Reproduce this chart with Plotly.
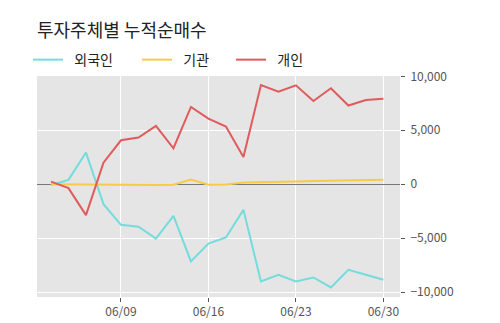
import plotly.graph_objects as go

dates = ["06/03", "06/04", "06/05", "06/06", "06/09", "06/10", "06/11", "06/12", "06/13",
         "06/16", "06/17", "06/18", "06/19", "06/20", "06/23", "06/24", "06/25", "06/26",
         "06/27", "06/30"]
foreign = [-80, 400, 2930, -1850, -3770, -3950, -5040, -2940, -7160, -5500, -4940, -2380,
           -9020, -8400, -9020, -8650, -9570, -7940, -8400, -8860]
institution = [0, -20, -30, -20, -30, -60, -70, -50, 420, -60, -20, 150, 170, 200, 250, 300,
               340, 370, 380, 400]
individual = [240, -370, -2870, 2000, 4070, 4320, 5400, 3330, 7160, 6080, 5340, 2530, 9190,
              8580, 9170, 7710, 8890, 7290, 7800, 7930]
tick_dates = ["06/09", "06/16", "06/23", "06/30"]
y_ticks = [-10000, -5000, 0, 5000, 10000]

W, H = 500, 323
L, R, T, B = 37, 100, 75.5, 26
pw, ph = W - L - R, H - T - B

x = list(range(len(dates)))
fig = go.Figure()
series = [("외국인", foreign, "#74dcdc", "legend", 28),
          ("기관", institution, "#f7cb45", "legend2", 137),
          ("개인", individual, "#e05b5b", "legend3", 231)]
legend_cfg = {}
for name, vals, col, lg, lx in series:
    fig.add_trace(go.Scatter(x=x, y=vals, name="\u00a0\u00a0" + name, mode="lines",
                             line=dict(color=col, width=2), legend=lg))
    legend_cfg[lg] = dict(orientation="h", x=(lx - L) / pw, xanchor="left",
                          y=1 + (T - 59.5) / ph, yanchor="middle",
                          font=dict(size=14, color="#222222"), bgcolor="rgba(0,0,0,0)",
                          borderwidth=0)

fig.update_layout(
    width=W, height=H,
    margin=dict(l=L, r=R, t=T, b=B, autoexpand=False),
    paper_bgcolor="white", plot_bgcolor="#e5e5e5",
    font=dict(family="Noto Sans CJK KR", color="#555555", size=12),
    title=dict(text="투자주체별 누적순매수", x=L / W, xanchor="left", y=1 - 31 / H, yanchor="middle",
               font=dict(size=18, color="#222222")),
    showlegend=True,
    **legend_cfg,
)
fig.update_xaxes(range=[-0.8, 19.95], tickmode="array",
                 tickvals=[dates.index(d) for d in tick_dates], ticktext=tick_dates,
                 showgrid=True, gridcolor="white", gridwidth=1, zeroline=False, automargin=False,
                 ticks="outside", ticklen=4, tickcolor="#555555", tickfont=dict(size=12, color="#555555"))
fig.update_yaxes(range=[-10460, 10030], side="right", tickvals=y_ticks, tickformat=",",
                 showgrid=True, gridcolor="white", gridwidth=1, automargin=False,
                 zeroline=True, zerolinecolor="#777777", zerolinewidth=1,
                 ticks="outside", ticklen=4, ticklabelstandoff=3,
                 tickcolor="#555555", tickfont=dict(size=12, color="#555555"))
fig.write_html("out.html")
